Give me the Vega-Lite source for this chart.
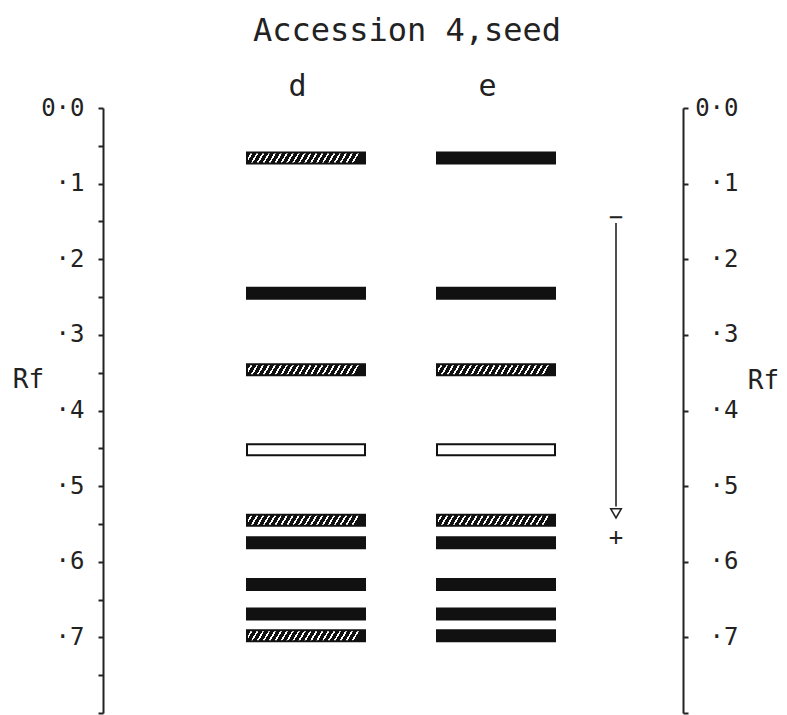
{
  "$schema": "https://vega.github.io/schema/vega-lite/v6.json",
  "width": 580,
  "height": 605,
  "autosize": {"type": "none"},
  "padding": {"left": 103, "top": 108, "right": 104, "bottom": 2},
  "background": "white",
  "config": {
    "view": {"stroke": null},
    "axis": {
      "labelFont": "DejaVu Sans Mono",
      "titleFont": "DejaVu Sans Mono",
      "labelColor": "#222",
      "titleColor": "#222",
      "domainColor": "#222",
      "tickColor": "#222",
      "grid": false,
      "titleFontWeight": "normal"
    },
    "axisTop": {
      "domain": false, "ticks": false, "tickSize": 0,
      "labelFontSize": 30, "labelPadding": 13, "labelBaseline": "alphabetic", "labelOffset": -9,
      "titleFontSize": 32, "titleX": 303.5, "titleY": -68, "titleAlign": "center", "titleBaseline": "alphabetic", "titleAngle": 0
    }
  },
  "datasets": {
    "bands": [
      {"lane": "d", "pos": 203, "rf": 0.066, "stain": "hatched"},
      {"lane": "d", "pos": 203, "rf": 0.245, "stain": "solid"},
      {"lane": "d", "pos": 203, "rf": 0.346, "stain": "hatched"},
      {"lane": "d", "pos": 203, "rf": 0.452, "stain": "open"},
      {"lane": "d", "pos": 203, "rf": 0.545, "stain": "hatched"},
      {"lane": "d", "pos": 203, "rf": 0.575, "stain": "solid"},
      {"lane": "d", "pos": 203, "rf": 0.630, "stain": "solid"},
      {"lane": "d", "pos": 203, "rf": 0.669, "stain": "solid"},
      {"lane": "d", "pos": 203, "rf": 0.698, "stain": "hatched"},
      {"lane": "e", "pos": 393, "rf": 0.066, "stain": "solid"},
      {"lane": "e", "pos": 393, "rf": 0.245, "stain": "solid"},
      {"lane": "e", "pos": 393, "rf": 0.346, "stain": "hatched"},
      {"lane": "e", "pos": 393, "rf": 0.452, "stain": "open"},
      {"lane": "e", "pos": 393, "rf": 0.545, "stain": "hatched"},
      {"lane": "e", "pos": 393, "rf": 0.575, "stain": "solid"},
      {"lane": "e", "pos": 393, "rf": 0.630, "stain": "solid"},
      {"lane": "e", "pos": 393, "rf": 0.669, "stain": "solid"},
      {"lane": "e", "pos": 393, "rf": 0.698, "stain": "solid"}
    ],
    "arrow": [{"pos": 513, "from": 0.152, "to": 0.527, "tip": 0.536}],
    "poles": [
      {"pole": "−", "pos": 513, "rf": 0.145},
      {"pole": "+", "pos": 513, "rf": 0.569}
    ]
  },
  "layer": [
    {
      "data": {"name": "bands"},
      "mark": {"type": "tick", "orient": "horizontal", "size": 118, "thickness": 11, "stroke": "#111", "strokeWidth": 2, "opacity": 1},
      "encoding": {
        "x": {
          "field": "pos", "type": "quantitative",
          "scale": {"domain": [0, 580], "nice": false, "zero": false},
          "axis": {"orient": "top", "values": [203, 393], "labelExpr": "datum.value < 300 ? 'd' : 'e'", "title": "Accession 4,seed"}
        },
        "y": {
          "field": "rf", "type": "quantitative",
          "scale": {"domain": [0, 0.8], "reverse": true, "nice": false, "zero": false},
          "axis": {
            "orient": "left", "title": "Rf",
            "values": [0, 0.05, 0.1, 0.15, 0.2, 0.25, 0.3, 0.35, 0.4, 0.45, 0.5, 0.55, 0.6, 0.65, 0.7, 0.75, 0.8],
            "labelExpr": "datum.value === 0 ? '0·0' : (round(datum.value*100) % 10 === 0 && datum.value < 0.75 ? '·' + round(datum.value*10) : '')",
            "labelFontSize": 24, "labelPadding": 14, "labelBaseline": "middle", "labelAlign": "right",
            "tickSize": 5, "tickWidth": 2, "domainWidth": 2,
            "titleFontSize": 26, "titleAngle": 0, "titleX": -75, "titleY": 279, "titleAlign": "center", "titleBaseline": "alphabetic",
            "labelOverlap": false
          }
        },
        "fill": {
          "condition": [
            {
              "test": "datum.stain === 'hatched'",
              "value": {
                "gradient": "linear", "x1": 0, "y1": 0, "x2": 1, "y2": 0.055,
                "stops": [
                  {"offset": 0, "color": "#111"}, {"offset": 0.034, "color": "#111"}, {"offset": 0.034, "color": "white"}, {"offset": 0.05, "color": "white"},
                  {"offset": 0.05, "color": "#111"}, {"offset": 0.084, "color": "#111"}, {"offset": 0.084, "color": "white"}, {"offset": 0.1, "color": "white"},
                  {"offset": 0.1, "color": "#111"}, {"offset": 0.134, "color": "#111"}, {"offset": 0.134, "color": "white"}, {"offset": 0.15, "color": "white"},
                  {"offset": 0.15, "color": "#111"}, {"offset": 0.184, "color": "#111"}, {"offset": 0.184, "color": "white"}, {"offset": 0.2, "color": "white"},
                  {"offset": 0.2, "color": "#111"}, {"offset": 0.234, "color": "#111"}, {"offset": 0.234, "color": "white"}, {"offset": 0.25, "color": "white"},
                  {"offset": 0.25, "color": "#111"}, {"offset": 0.284, "color": "#111"}, {"offset": 0.284, "color": "white"}, {"offset": 0.3, "color": "white"},
                  {"offset": 0.3, "color": "#111"}, {"offset": 0.334, "color": "#111"}, {"offset": 0.334, "color": "white"}, {"offset": 0.35, "color": "white"},
                  {"offset": 0.35, "color": "#111"}, {"offset": 0.384, "color": "#111"}, {"offset": 0.384, "color": "white"}, {"offset": 0.4, "color": "white"},
                  {"offset": 0.4, "color": "#111"}, {"offset": 0.434, "color": "#111"}, {"offset": 0.434, "color": "white"}, {"offset": 0.45, "color": "white"},
                  {"offset": 0.45, "color": "#111"}, {"offset": 0.484, "color": "#111"}, {"offset": 0.484, "color": "white"}, {"offset": 0.5, "color": "white"},
                  {"offset": 0.5, "color": "#111"}, {"offset": 0.534, "color": "#111"}, {"offset": 0.534, "color": "white"}, {"offset": 0.55, "color": "white"},
                  {"offset": 0.55, "color": "#111"}, {"offset": 0.584, "color": "#111"}, {"offset": 0.584, "color": "white"}, {"offset": 0.6, "color": "white"},
                  {"offset": 0.6, "color": "#111"}, {"offset": 0.634, "color": "#111"}, {"offset": 0.634, "color": "white"}, {"offset": 0.65, "color": "white"},
                  {"offset": 0.65, "color": "#111"}, {"offset": 0.684, "color": "#111"}, {"offset": 0.684, "color": "white"}, {"offset": 0.7, "color": "white"},
                  {"offset": 0.7, "color": "#111"}, {"offset": 0.734, "color": "#111"}, {"offset": 0.734, "color": "white"}, {"offset": 0.75, "color": "white"},
                  {"offset": 0.75, "color": "#111"}, {"offset": 0.784, "color": "#111"}, {"offset": 0.784, "color": "white"}, {"offset": 0.8, "color": "white"},
                  {"offset": 0.8, "color": "#111"}, {"offset": 0.834, "color": "#111"}, {"offset": 0.834, "color": "white"}, {"offset": 0.85, "color": "white"},
                  {"offset": 0.85, "color": "#111"}, {"offset": 0.884, "color": "#111"}, {"offset": 0.884, "color": "white"}, {"offset": 0.9, "color": "white"},
                  {"offset": 0.9, "color": "#111"}, {"offset": 0.934, "color": "#111"}, {"offset": 0.934, "color": "white"}, {"offset": 0.95, "color": "white"},
                  {"offset": 0.95, "color": "#111"}, {"offset": 1, "color": "#111"}
                ]
              }
            },
            {"test": "datum.stain === 'open'", "value": "white"}
          ],
          "value": "#111"
        }
      }
    },
    {
      "layer": [
        {
          "data": {"name": "arrow"},
          "mark": {"type": "rule", "color": "#222", "strokeWidth": 1.6},
          "encoding": {
            "x": {
              "field": "pos", "type": "quantitative",
              "axis": {"orient": "top", "values": [203, 393], "labelExpr": "datum.value < 300 ? 'd' : 'e'", "title": "Accession 4,seed"}
            },
            "y": {
              "field": "from", "type": "quantitative",
              "scale": {"domain": [0, 0.8], "reverse": true, "nice": false, "zero": false},
              "axis": {
                "orient": "right", "title": "Rf",
                "values": [0, 0.05, 0.1, 0.15, 0.2, 0.25, 0.3, 0.35, 0.4, 0.45, 0.5, 0.55, 0.6, 0.65, 0.7, 0.75, 0.8],
                "labelExpr": "datum.value === 0 ? '0·0' : (round(datum.value*100) % 10 === 0 && datum.value < 0.75 ? '·' + round(datum.value*10) : '')",
                "labelFontSize": 24, "labelPadding": 50, "labelBaseline": "middle", "labelAlign": "right",
                "tickSize": 5, "tickWidth": 2, "domainWidth": 2,
                "titleFontSize": 26, "titleAngle": 0, "titleX": 80, "titleY": 280, "titleAlign": "center", "titleBaseline": "alphabetic",
                "labelOverlap": false
              }
            },
            "y2": {"field": "to"}
          }
        },
        {
          "data": {"name": "arrow"},
          "mark": {"type": "point", "shape": "triangle-down", "filled": true, "fill": "white", "stroke": "#222", "strokeWidth": 1.6, "size": 110, "opacity": 1},
          "encoding": {
            "x": {
              "field": "pos", "type": "quantitative",
              "axis": {"orient": "top", "values": [203, 393], "labelExpr": "datum.value < 300 ? 'd' : 'e'", "title": "Accession 4,seed"}
            },
            "y": {"field": "tip", "type": "quantitative", "title": "Rf"}
          }
        },
        {
          "data": {"name": "poles"},
          "mark": {"type": "text", "font": "DejaVu Sans Mono", "fontSize": 24, "color": "#222", "baseline": "middle", "align": "center"},
          "encoding": {
            "x": {
              "field": "pos", "type": "quantitative",
              "axis": {"orient": "top", "values": [203, 393], "labelExpr": "datum.value < 300 ? 'd' : 'e'", "title": "Accession 4,seed"}
            },
            "y": {"field": "rf", "type": "quantitative", "title": "Rf"},
            "text": {"field": "pole"}
          }
        }
      ]
    }
  ],
  "resolve": {"scale": {"y": "independent"}}
}
